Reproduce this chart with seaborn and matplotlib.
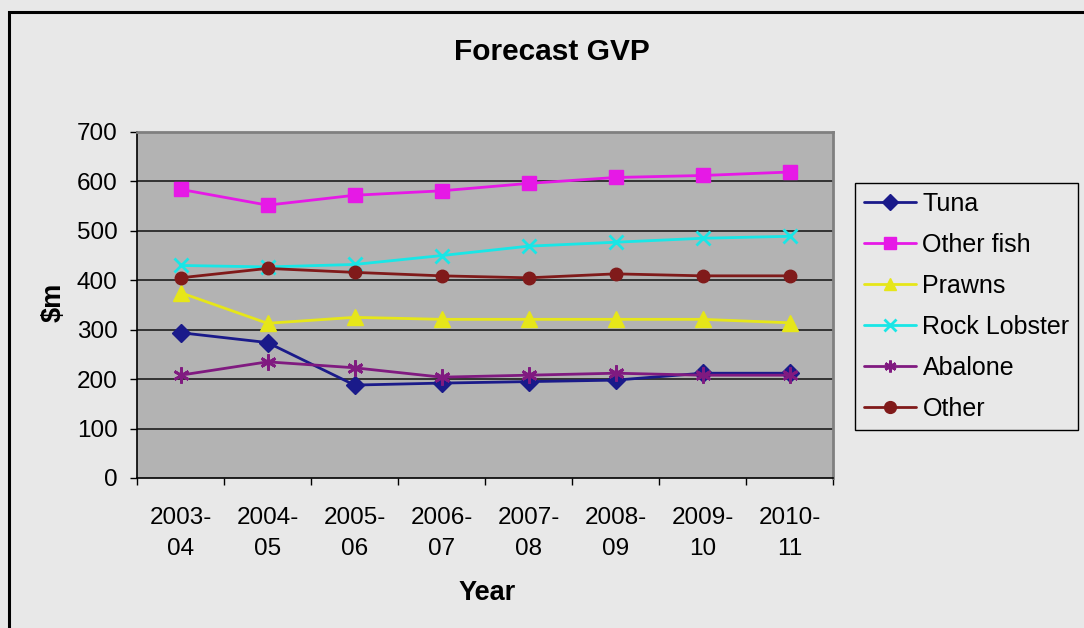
import matplotlib
matplotlib.use("Agg")
import matplotlib.pyplot as plt
import matplotlib.patches as mpatches
import seaborn as sns
import pandas as pd

# Financial years shown along the x axis
years = ["2003-\n04", "2004-\n05", "2005-\n06", "2006-\n07",
         "2007-\n08", "2008-\n09", "2009-\n10", "2010-\n11"]

# Forecast gross value of production ($m) per fishery
tuna = [294, 274, 188, 192, 195, 198, 212, 212]
other_fish = [584, 552, 572, 581, 596, 608, 612, 619]
prawns = [375, 313, 325, 321, 321, 321, 321, 314]
rock_lobster = [430, 427, 432, 450, 469, 477, 485, 489]
abalone = [208, 235, 223, 204, 208, 212, 208, 208]
other = [405, 424, 416, 409, 405, 413, 409, 409]

series_names = ["Tuna", "Other fish", "Prawns", "Rock Lobster", "Abalone", "Other"]
series_values = [tuna, other_fish, prawns, rock_lobster, abalone, other]

colors = ["#1a1a8a", "#e619e6", "#e6e619", "#19e6e6", "#801a80", "#801a1a"]
markers = ["D", "s", "^", "x", (6, 2, 0), "o"]
msizes = [9.5, 9.5, 11, 10.5, 11.5, 9]

df = pd.DataFrame({
    "Year": years * len(series_names),
    "Series": [n for n in series_names for _ in years],
    "Value": [v for vals in series_values for v in vals],
    "pos": list(range(len(years))) * len(series_names),
})

sns.set_theme(style="white")
plt.rcParams["font.family"] = ["Liberation Sans", "DejaVu Sans"]
plt.rcParams["text.color"] = "black"
plt.rcParams["xtick.color"] = "black"
plt.rcParams["ytick.color"] = "black"
plt.rcParams["axes.labelcolor"] = "black"

BG = "#e8e8e8"
W, H = 1084, 628
fig = plt.figure(figsize=(W / 100, H / 100), dpi=100, facecolor=BG)
ax = fig.add_axes([137 / W, 1 - 478 / H, (833 - 137) / W, (478 - 132) / H])
ax.set_facecolor("#b3b3b3")

for name, col, mk, ms in zip(series_names, colors, markers, msizes):
    sub = df[df["Series"] == name]
    sns.lineplot(data=sub, x="pos", y="Value", ax=ax, color=col, marker=mk,
                 markersize=ms, markeredgecolor=col,
                 markeredgewidth=2 if mk in ("x", (6, 2, 0)) else 1,
                 linewidth=2, label=name, zorder=3)

ax.set_xlim(-0.5, len(years) - 0.5)
ax.set_ylim(0, 700)

# Gridlines
ax.set_yticks(range(0, 701, 100))
for yv in range(100, 700, 100):
    ax.axhline(yv, color="#1e1e1e", linewidth=1.2, zorder=1)

# Category labels centered, tick marks between categories
ax.set_xticks(range(len(years)))
ax.set_xticklabels(years, fontsize=17.5, linespacing=1.5)
ax.set_xticks([i - 0.5 for i in range(len(years) + 1)], minor=True)
ax.tick_params(axis="x", which="major", length=0, pad=21)
ax.tick_params(axis="x", which="minor", length=5, width=1, color="black", direction="out")
ax.tick_params(axis="y", which="major", length=5, width=1, color="black", direction="out",
               labelsize=17.5, pad=9)
ax.yaxis.set_ticks_position("left")
ax.xaxis.set_ticks_position("bottom")

for side in ("left", "bottom"):
    ax.spines[side].set_color("black")
    ax.spines[side].set_linewidth(1.2)
for side in ("top", "right"):
    ax.spines[side].set_color("#808080")
    ax.spines[side].set_linewidth(2)

ax.set_xlabel("")
ax.set_ylabel("")
fig.text(487 / W, 1 - 593 / H, "Year", ha="center", va="center",
         fontsize=19.5, fontweight="bold")
fig.text(54 / W, 1 - 302 / H, r"\$m", ha="center", va="center", rotation=90,
         fontsize=19.5, fontweight="bold")
fig.text(552 / W, 1 - 52 / H, "Forecast GVP", ha="center", va="center",
         fontsize=21.5, fontweight="bold")

ax.get_legend().remove()
handles, labels = ax.get_legend_handles_labels()
leg = fig.legend(handles, labels, loc="upper left",
                 bbox_to_anchor=(855 / W, 1 - 183 / H),
                 bbox_transform=fig.transFigure, frameon=True, fancybox=False,
                 edgecolor="black", facecolor=BG, framealpha=1, fontsize=18,
                 handlelength=2.1, labelspacing=0.68, borderpad=0.35,
                 handletextpad=0.25, borderaxespad=0)
leg.get_frame().set_linewidth(1)
for h in leg.legend_handles:
    h.set_markersize(8.5)

# Outer chart frame
frame = mpatches.Rectangle((9 / W, -0.1), 1.2, 1.1 - 12 / H,
                           transform=fig.transFigure, fill=False,
                           edgecolor="black", linewidth=2.2, zorder=0)
fig.patches.append(frame)

fig.savefig("out.png", dpi=100, facecolor=BG)
